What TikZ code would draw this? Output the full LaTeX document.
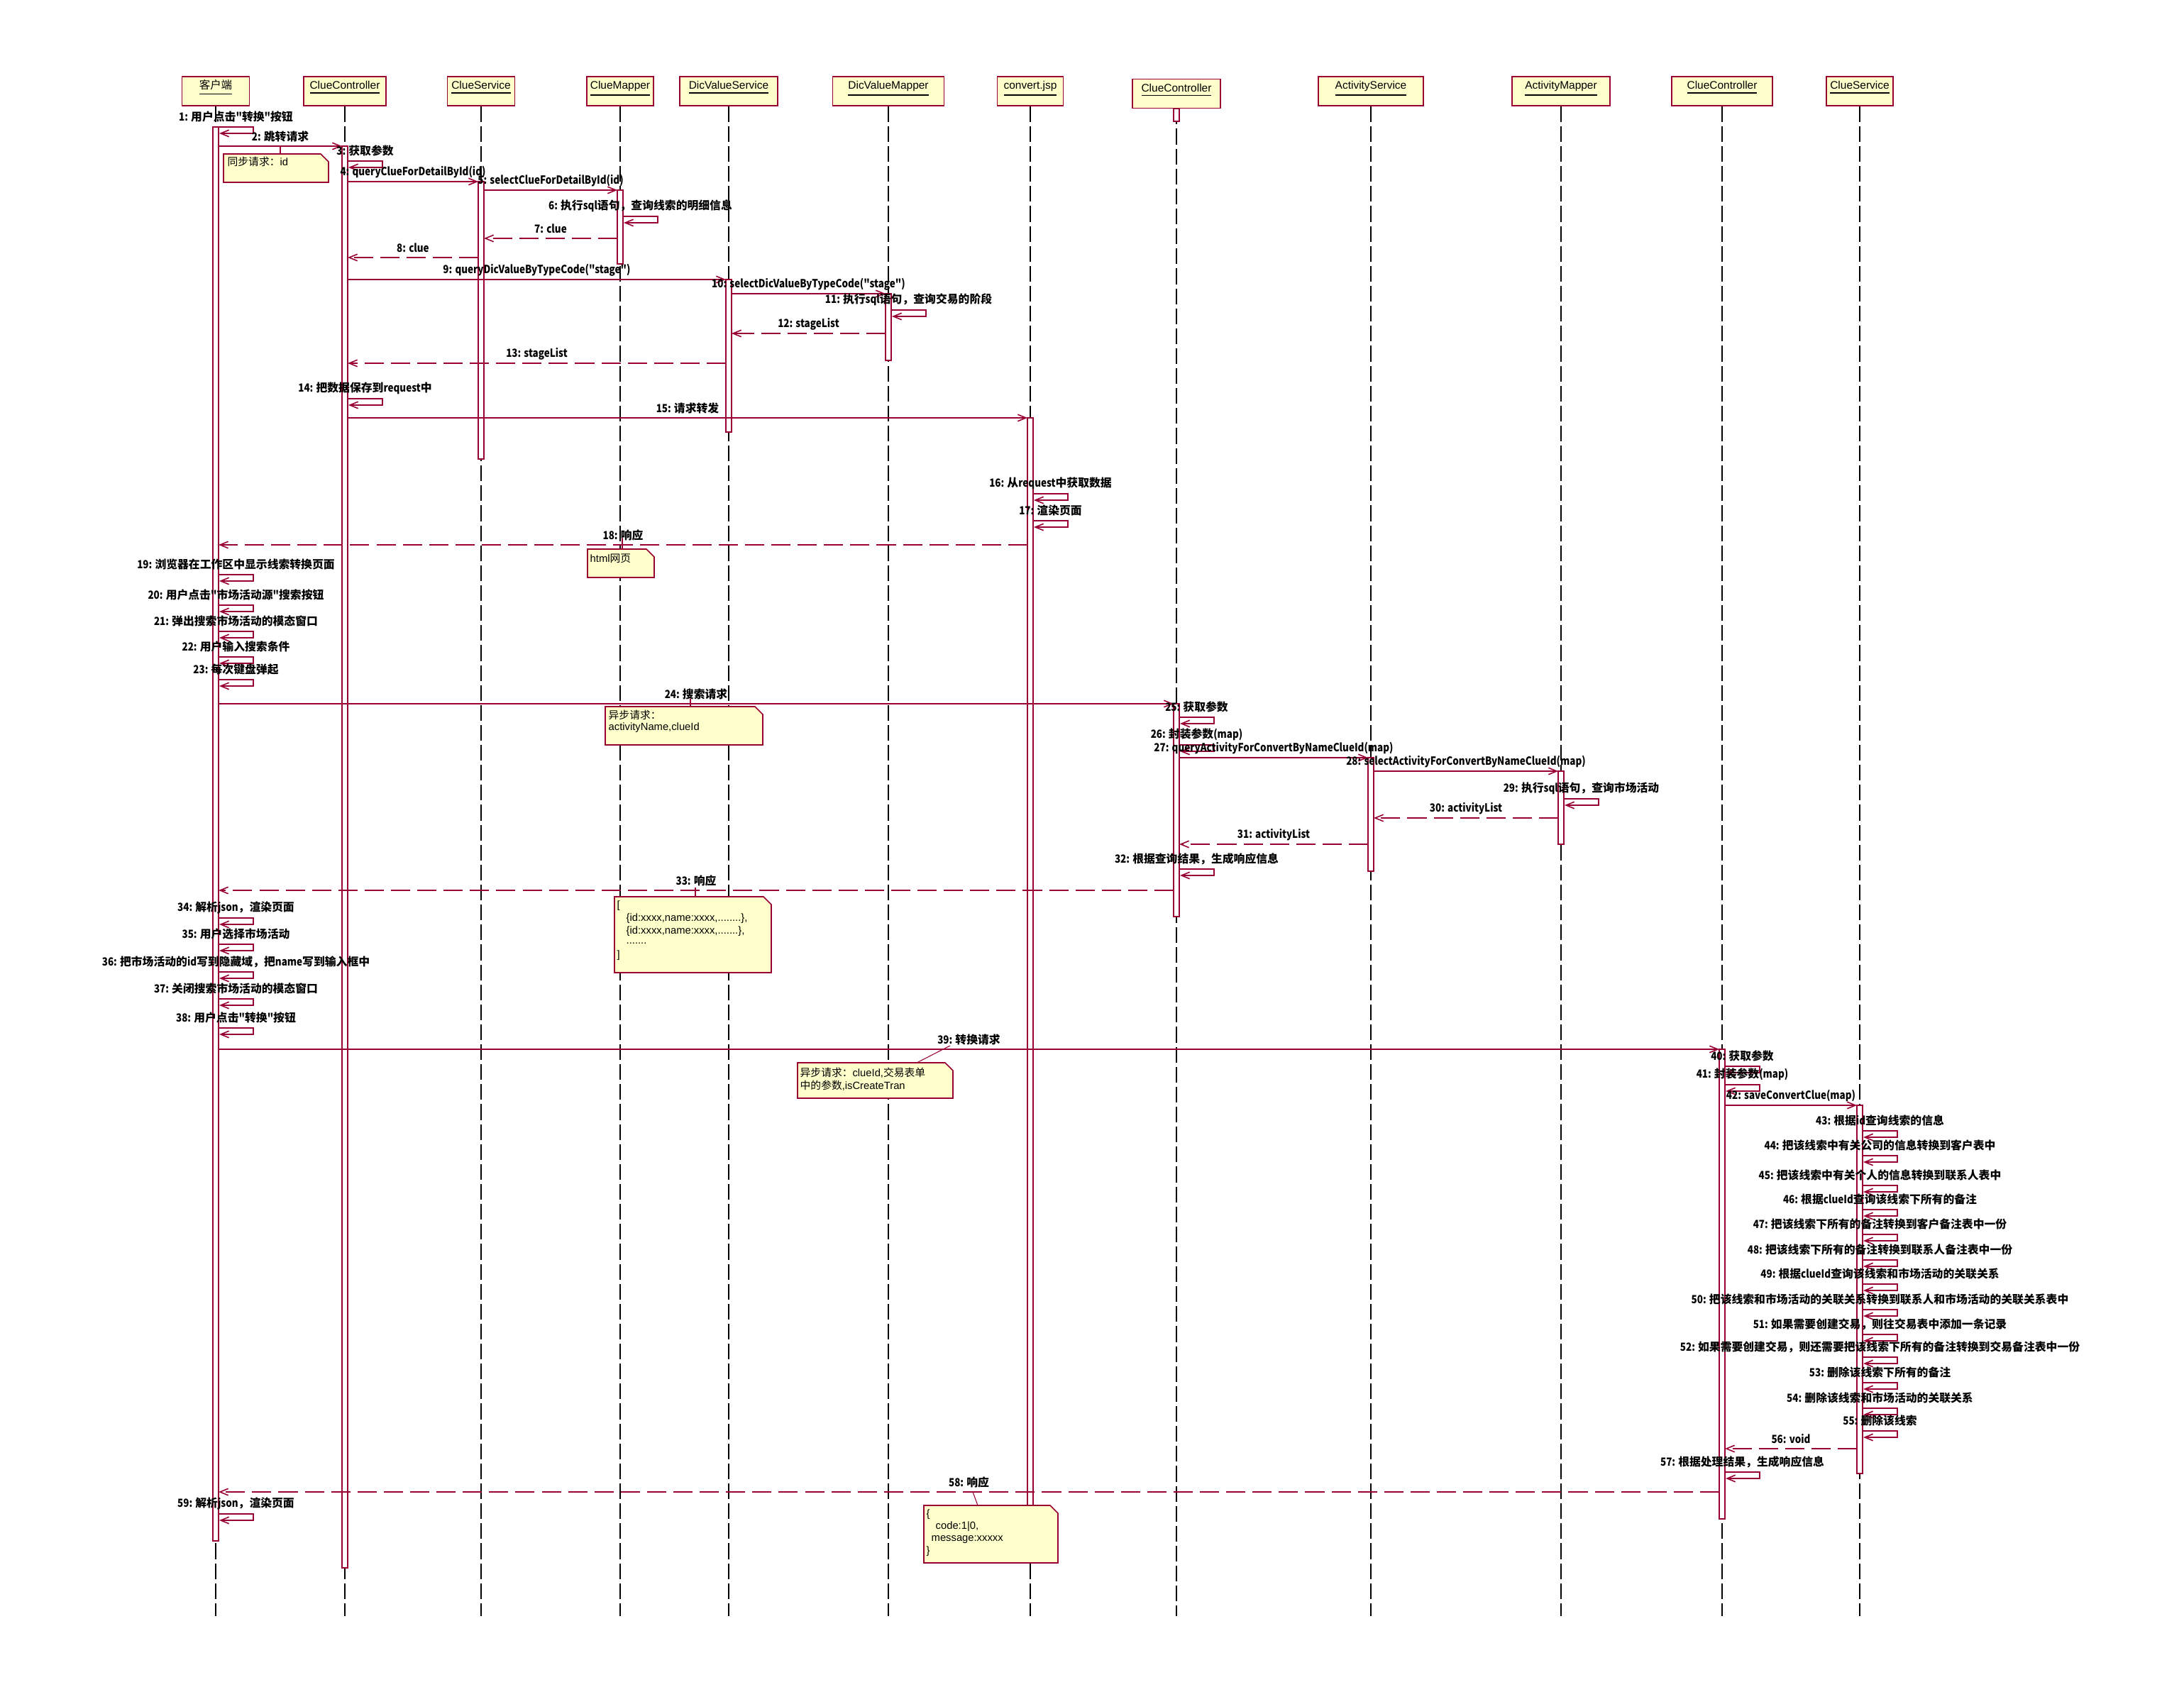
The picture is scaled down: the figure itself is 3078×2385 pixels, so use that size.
\documentclass[tikz,border=0pt]{standalone}
\usepackage{fontspec}
\setmainfont{Liberation Sans}
\newfontfamily\cjk{Noto Sans CJK SC}
\newfontfamily\latf{Noto Sans CJK SC}[FakeStretch=0.85]
\newcommand\nl[1]{{\latf #1}}
\usetikzlibrary{arrows.meta}
\definecolor{rred}{RGB}{153,0,51}
\definecolor{noteyel}{RGB}{255,255,204}
\def\xA{304}\def\xB{486}\def\xC{678}\def\xD{874}\def\xE{1027}\def\xF{1252}
\def\xG{1452}\def\xH{1658}\def\xI{1932}\def\xJ{2200}\def\xK{2427}\def\xL{2621}
% self message: name, lifeline x, y, label
\newcommand\selfm[4]{%
  \coordinate (#1s) at (#2+4,#3);
  \coordinate (#1e) at (#2+5,#3+9);
  \draw[msg] (#1s) -- (#2+53,#3) -- (#2+53,#3+9) -- (#1e);
  \node[lbl] (#1) at (#2+28.5,#3-14.5) {#4};}
% call message: name, x start, x end, y, label
\newcommand\callm[5]{%
  \coordinate (#1s) at (#2,#4);
  \coordinate (#1e) at (#3,#4);
  \draw[msg] (#1s) -- (#1e);
  \node[lbl] (#1) at ({(#2+#3)/2},#4-13.5) {#5};}
\newcommand\retm[5]{%
  \coordinate (#1s) at (#2,#4);
  \coordinate (#1e) at (#3,#4);
  \draw[ret] (#1s) -- (#1e);
  \node[lbl] (#1) at ({(#2+#3)/2},#4-13.5) {#5};}
% note shape: x1,y1,x2,y2
\newcommand\noteshape[4]{%
  \draw[notest] (#1,#2) -- (#3-11,#2) -- (#3,#2+11) -- (#3,#4) -- (#1,#4) -- cycle;}
\begin{document}
\begin{tikzpicture}[x=0.01cm,y=-0.01cm,
  life/.style={draw=black, line width=0.35pt, dash pattern=on 6.3pt off 1.7pt},
  bar/.style={draw=rred, fill=white, line width=0.4pt},
  msg/.style={draw=rred, line width=0.45pt, -{Straight Barb[length=3.3pt,width=2.7pt]}},
  ret/.style={msg, dash pattern=on 7.7pt off 2.85pt},
  lbl/.style={inner sep=0pt, font=\cjk\bfseries\fontsize{4.5}{5.4}\selectfont},
  head/.style={draw=rred, fill=noteyel, line width=0.45pt, text height=0.18cm, text depth=0.23cm, inner ysep=0pt, inner xsep=0pt, font=\fontsize{4.4}{5}\selectfont},
  notest/.style={draw=rred, fill=noteyel, line width=0.45pt},
  ntxt/.style={inner sep=0pt, anchor=west, font=\fontsize{4.2}{5}\selectfont},
  nline/.style={draw=rred, line width=0.3pt}]
\fill[white] (0,0) rectangle (3078,2385);
\useasboundingbox (0,0) rectangle (3078,2385);

% lifeline ends
\foreach \n/\x in {A/\xA,B/\xB,C/\xC,D/\xD,E/\xE,F/\xF,G/\xG,H/\xH,I/\xI,J/\xJ,K/\xK,L/\xL}{
  \coordinate (e\n) at (\x,2278);}

% heads
\node[head, minimum width=0.95cm] (hA) at (\xA,128.5) {\underline{\cjk 客户端}};
\node[head, minimum width=1.16cm] (hB) at (\xB,128.5) {\underline{ClueController}};
\node[head, minimum width=0.95cm] (hC) at (\xC,128.5) {\underline{ClueService}};
\node[head, minimum width=0.94cm] (hD) at (\xD,128.5) {\underline{ClueMapper}};
\node[head, minimum width=1.38cm] (hE) at (\xE,128.5) {\underline{DicValueService}};
\node[head, minimum width=1.57cm] (hF) at (\xF,128.5) {\underline{DicValueMapper}};
\node[head, minimum width=0.93cm] (hG) at (\xG,128.5) {\underline{convert.jsp}};
\node[head, minimum width=1.24cm] (hH) at (\xH,132) {\underline{ClueController}};
\node[head, minimum width=1.48cm] (hI) at (\xI,128.5) {\underline{ActivityService}};
\node[head, minimum width=1.38cm] (hJ) at (\xJ,128.5) {\underline{ActivityMapper}};
\node[head, minimum width=1.42cm] (hK) at (\xK,128.5) {\underline{ClueController}};
\node[head, minimum width=0.94cm] (hL) at (\xL,128.5) {\underline{ClueService}};

\foreach \n in {A,B,C,D,E,F,G,H,I,J,K,L}{
  \draw[life] (h\n) -- (e\n);}

% activation bars
\draw[bar] (\xA-4,179) rectangle (\xA+4,2172);
\draw[bar] (\xB-4,206) rectangle (\xB+4,2210);
\draw[bar] (\xC-4,256) rectangle (\xC+4,647);
\draw[bar] (\xD-4,268) rectangle (\xD+4,372);
\draw[bar] (\xE-4,394) rectangle (\xE+4,609);
\draw[bar] (\xF-4,414) rectangle (\xF+4,508);
\draw[bar] (\xG-4,589) rectangle (\xG+4,2124);
\draw[bar] (\xH-4,153) rectangle (\xH+4,171);
\draw[bar] (\xH-4,992) rectangle (\xH+4,1292);
\draw[bar] (\xI-4,1068) rectangle (\xI+4,1228);
\draw[bar] (\xJ-4,1087) rectangle (\xJ+4,1190);
\draw[bar] (\xK-4,1479) rectangle (\xK+4,2141);
\draw[bar] (\xL-4,1558) rectangle (\xL+4,2077);

% messages
\selfm{m1}{\xA}{179}{\nl{1: }用户点击\nl{"}转换\nl{"}按钮}
\callm{m2}{\xA+4}{\xB-4}{206}{\nl{2: }跳转请求}
\selfm{m3}{\xB}{227}{\nl{3: }获取参数}
\callm{m4}{\xB+4}{\xC-4}{256}{\nl{4: queryClueForDetailById(id)}}
\callm{m5}{\xC+4}{\xD-4}{268}{\nl{5: selectClueForDetailById(id)}}
\selfm{m6}{\xD}{305}{\nl{6: }执行\nl{sql}语句，查询线索的明细信息}
\retm{m7}{\xD-4}{\xC+4}{336}{\nl{7: clue}}
\retm{m8}{\xC-4}{\xB+4}{363}{\nl{8: clue}}
\callm{m9}{\xB+4}{\xE-4}{394}{\nl{9: queryDicValueByTypeCode("stage")}}
\callm{m10}{\xE+4}{\xF-4}{414}{\nl{10: selectDicValueByTypeCode("stage")}}
\selfm{m11}{\xF}{437}{\nl{11: }执行\nl{sql}语句，查询交易的阶段}
\retm{m12}{\xF-4}{\xE+4}{470}{\nl{12: stageList}}
\retm{m13}{\xE-4}{\xB+4}{512}{\nl{13: stageList}}
\selfm{m14}{\xB}{562}{\nl{14: }把数据保存到\nl{request}中}
\callm{m15}{\xB+4}{\xG-4}{589}{\nl{15: }请求转发}
\selfm{m16}{\xG}{696}{\nl{16: }从\nl{request}中获取数据}
\selfm{m17}{\xG}{734}{\nl{17: }渲染页面}
\retm{m18}{\xG-4}{\xA+4}{768}{\nl{18: }响应}
\selfm{m19}{\xA}{810}{\nl{19: }浏览器在工作区中显示线索转换页面}
\selfm{m20}{\xA}{853}{\nl{20: }用户点击\nl{"}市场活动源\nl{"}搜索按钮}
\selfm{m21}{\xA}{890}{\nl{21: }弹出搜索市场活动的模态窗口}
\selfm{m22}{\xA}{926}{\nl{22: }用户输入搜索条件}
\selfm{m23}{\xA}{958}{\nl{23: }每次键盘弹起}
\callm{m24}{\xA+4}{\xH-4}{992}{\nl{24: }搜索请求}
\selfm{m25}{\xH}{1011}{\nl{25: }获取参数}
\selfm{m26}{\xH}{1050}{\nl{26: }封装参数\nl{(map)}}
\callm{m27}{\xH+4}{\xI-4}{1068}{\nl{27: queryActivityForConvertByNameClueId(map)}}
\callm{m28}{\xI+4}{\xJ-4}{1087}{\nl{28: selectActivityForConvertByNameClueId(map)}}
\selfm{m29}{\xJ}{1126}{\nl{29: }执行\nl{sql}语句，查询市场活动}
\retm{m30}{\xJ-4}{\xI+4}{1153}{\nl{30: activityList}}
\retm{m31}{\xI-4}{\xH+4}{1190}{\nl{31: activityList}}
\selfm{m32}{\xH}{1225}{\nl{32: }根据查询结果，生成响应信息}
\retm{m33}{\xH-4}{\xA+4}{1255}{\nl{33: }响应}
\selfm{m34}{\xA}{1294}{\nl{34: }解析\nl{json}，渲染页面}
\selfm{m35}{\xA}{1331}{\nl{35: }用户选择市场活动}
\selfm{m36}{\xA}{1370}{\nl{36: }把市场活动的\nl{id}写到隐藏域，把\nl{name}写到输入框中}
\selfm{m37}{\xA}{1408}{\nl{37: }关闭搜索市场活动的模态窗口}
\selfm{m38}{\xA}{1449}{\nl{38: }用户点击\nl{"}转换\nl{"}按钮}
\callm{m39}{\xA+4}{\xK-4}{1479}{\nl{39: }转换请求}
\selfm{m40}{\xK}{1503}{\nl{40: }获取参数}
\selfm{m41}{\xK}{1529}{\nl{41: }封装参数\nl{(map)}}
\callm{m42}{\xK+4}{\xL-4}{1558}{\nl{42: saveConvertClue(map)}}
\selfm{m43}{\xL}{1594}{\nl{43: }根据\nl{id}查询线索的信息}
\selfm{m44}{\xL}{1629}{\nl{44: }把该线索中有关公司的信息转换到客户表中}
\selfm{m45}{\xL}{1671}{\nl{45: }把该线索中有关个人的信息转换到联系人表中}
\selfm{m46}{\xL}{1705}{\nl{46: }根据\nl{clueId}查询该线索下所有的备注}
\selfm{m47}{\xL}{1740}{\nl{47: }把该线索下所有的备注转换到客户备注表中一份}
\selfm{m48}{\xL}{1776}{\nl{48: }把该线索下所有的备注转换到联系人备注表中一份}
\selfm{m49}{\xL}{1810}{\nl{49: }根据\nl{clueId}查询该线索和市场活动的关联关系}
\selfm{m50}{\xL}{1846}{\nl{50: }把该线索和市场活动的关联关系转换到联系人和市场活动的关联关系表中}
\selfm{m51}{\xL}{1881}{\nl{51: }如果需要创建交易，则往交易表中添加一条记录}
\selfm{m52}{\xL}{1913}{\nl{52: }如果需要创建交易，则还需要把该线索下所有的备注转换到交易备注表中一份}
\selfm{m53}{\xL}{1949}{\nl{53: }删除该线索下所有的备注}
\selfm{m54}{\xL}{1985}{\nl{54: }删除该线索和市场活动的关联关系}
\selfm{m55}{\xL}{2017}{\nl{55: }删除该线索}
\retm{m56}{\xL-4}{\xK+4}{2042}{\nl{56: void}}
\selfm{m57}{\xK}{2075}{\nl{57: }根据处理结果，生成响应信息}
\retm{m58}{\xK-4}{\xA+4}{2103}{\nl{58: }响应}
\selfm{m59}{\xA}{2134}{\nl{59: }解析\nl{json}，渲染页面}

% notes
\coordinate (c1a) at (395,207); \coordinate (c1b) at (395,217);
\draw[nline] (c1a) -- (c1b);
\noteshape{315}{217}{463}{257}
\node[ntxt] (n1) at (320,228) {{\cjk 同步请求：}id};

\coordinate (c18a) at (877,759); \coordinate (c18b) at (877,774);
\draw[nline] (c18a) -- (c18b);
\noteshape{828}{774}{922}{814}
\node[ntxt] (n18) at (831,787) {html{\cjk 网页}};

\coordinate (c24a) at (973,985); \coordinate (c24b) at (973,996);
\draw[nline] (c24a) -- (c24b);
\noteshape{853}{996}{1075}{1050}
\node[ntxt] (n24a) at (857,1008) {\cjk 异步请求：};
\node[ntxt] (n24b) at (857,1026) {activityName,clueId};

\coordinate (c33a) at (980,1251); \coordinate (c33b) at (980,1264);
\draw[nline] (c33a) -- (c33b);
\noteshape{866}{1264}{1087}{1371}
\node[ntxt] (n33a) at (869,1277) {[};
\node[ntxt] (n33b) at (882,1295) {\{id:xxxx,name:xxxx,........\},};
\node[ntxt] (n33c) at (882,1313) {\{id:xxxx,name:xxxx,.......\},};
\node[ntxt] (n33d) at (882,1330) {.......};
\node[ntxt] (n33e) at (869,1347) {]};

\coordinate (c39a) at (1339,1474); \coordinate (c39b) at (1292,1498);
\draw[nline] (c39a) -- (c39b);
\noteshape{1124}{1498}{1343}{1548}
\node[ntxt] (n39a) at (1127,1512) {{\cjk 异步请求：}clueId,{\cjk 交易表单}};
\node[ntxt] (n39b) at (1127,1530) {{\cjk 中的参数},isCreateTran};

\coordinate (c58a) at (1371,2103); \coordinate (c58b) at (1378,2122);
\draw[nline] (c58a) -- (c58b);
\noteshape{1302}{2122}{1491}{2203}
\node[ntxt] (n58a) at (1305,2135) {\{};
\node[ntxt] (n58b) at (1318,2152) {code:1|0,};
\node[ntxt] (n58c) at (1312,2170) {message:xxxxx};
\node[ntxt] (n58d) at (1305,2187) {\}};
\end{tikzpicture}
\end{document}
